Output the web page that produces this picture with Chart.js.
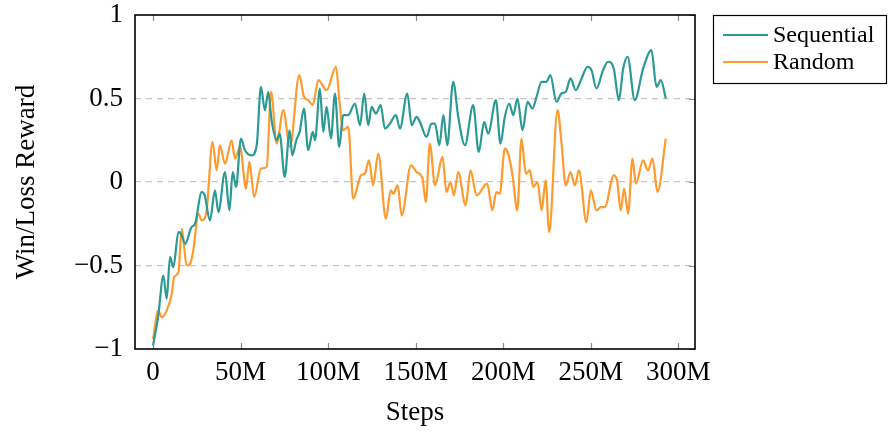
<!DOCTYPE html>
<html>
<head>
<meta charset="utf-8">
<script src="https://cdn.jsdelivr.net/npm/chart.js@4.4.1/dist/chart.umd.min.js"></script>
<style>
html,body{margin:0;padding:0;background:#fff;}
#wrap{width:888px;height:432px;}
</style>
</head>
<body>
<div id="wrap"><canvas id="c" width="888" height="432"></canvas></div>
<script>
// Steps in millions
const seqSteps = [0,3,5.9,7.8,9.7,11.6,14.5,16,18.3,22,24,27.8,29.5,32.5,35.4,37.3,41.1,43.6,45.5,47.4,50.2,52.5,56.3,59.2,61.6,63.9,65.8,67.7,70.6,72.3,75.2,78,79.5,81.8,83.7,86.2,88.6,91.2,92.5,95.3,97.2,99.1,101.6,103.9,106.3,108.6,111.4,115.3,118.2,120.6,122.9,124.8,127.3,130,132.4,135.3,138.7,141,145.2,147.7,150.5,152.4,156.2,159,161,163.5,165.8,168,171.4,174.3,178.1,182.8,186,189.1,191.4,195.8,198.4,200.9,203.4,205.7,208.1,211,213.9,216.7,219,221.9,224.7,226.9,230.4,233.2,235.7,238.4,241.4,244.7,248.1,250.4,253.2,257,259.9,263.1,266,268.5,271,275.1,279.9,284.6,287.5,290,292.8];
const seqValues = [-0.98,-0.80,-0.56,-0.70,-0.45,-0.51,-0.30,-0.31,-0.37,-0.27,-0.25,-0.06,-0.08,-0.23,-0.05,-0.18,0.06,-0.17,0.06,-0.03,0.26,0.19,0.16,0.22,0.57,0.43,0.54,0.37,0.25,0.29,0.03,0.31,0.16,0.25,0.30,0.44,0.19,0.30,0.25,0.56,0.30,0.45,0.26,0.53,0.21,0.40,0.40,0.47,0.34,0.53,0.34,0.45,0.41,0.46,0.32,0.35,0.40,0.32,0.53,0.34,0.39,0.36,0.27,0.35,0.35,0.22,0.40,0.22,0.60,0.39,0.22,0.46,0.18,0.36,0.29,0.49,0.23,0.39,0.47,0.40,0.50,0.31,0.48,0.44,0.51,0.60,0.60,0.64,0.48,0.53,0.54,0.62,0.55,0.62,0.69,0.67,0.56,0.67,0.72,0.68,0.49,0.68,0.75,0.49,0.68,0.79,0.57,0.61,0.50];

const rndSteps = [0,3,4.9,7.8,10.7,12,14.5,16.4,19.2,21.1,23,25.9,27.8,30.6,34,36.3,38.2,41.1,44.9,46.8,49.7,53.1,55,57.8,61.6,64.9,67.4,70.6,74.4,78.2,83.5,86.2,88.7,91.2,94.4,99.1,104.5,106.3,108.6,111.5,114.3,118.7,121,123.3,125.7,128.6,133,135.7,137.2,139.7,142,147.3,150.5,153.9,155.8,158.1,161,165.3,167.6,169.9,171.8,174.3,178.5,181.3,184.8,190.8,193.8,196,198,200.9,202.8,205.3,208,210.4,212.9,215.2,217.1,219.6,221.9,224.2,226.2,231,233.3,235.7,238.4,240.9,243.2,247.5,250,253.2,255.7,258,263.1,265,267.1,269,271.3,273.8,275.7,279.9,282.7,285.2,288.1,292.8];
const rndValues = [-0.94,-0.77,-0.81,-0.77,-0.67,-0.57,-0.54,-0.28,-0.50,-0.49,-0.41,-0.19,-0.23,-0.17,0.24,0.07,0.22,0.11,0.25,0.14,0.21,-0.04,0.12,-0.09,0.08,0.09,0.54,0.23,0.43,0.21,0.64,0.51,0.49,0.46,0.61,0.55,0.69,0.50,0.31,0.33,-0.10,0.04,0.05,0.13,-0.02,0.17,-0.22,-0.05,-0.07,-0.02,-0.20,0.10,0.06,0.02,-0.12,0.23,-0.02,0.15,-0.06,0.00,-0.08,0.06,-0.14,0.07,-0.08,-0.01,-0.17,-0.06,-0.07,0.20,0.17,0.04,-0.17,0.26,0.05,0.07,-0.03,0.00,-0.17,0.01,-0.30,0.43,0.23,-0.02,0.06,-0.02,0.07,-0.24,-0.05,-0.17,-0.15,-0.15,0.04,0.01,-0.17,-0.04,-0.19,0.14,-0.01,0.13,0.07,0.14,-0.06,0.26];

const xTicks = [0,50,100,150,200,250,300];
const yTicks = [-1,-0.5,0,0.5,1];
const seriesNames = ['Sequential','Random'];
const seriesColors = ['#2B9A94','#FF9A2E'];

const FONT = '"Liberation Serif", "Times New Roman", serif';

const frame = {
  id: 'frame',
  afterDatasetsDraw(chart) {
    const {ctx, chartArea: a, scales: {x, y}} = chart;
    ctx.save();
    ctx.strokeStyle = '#8a8a8a';
    ctx.lineWidth = 1.2;
    ctx.beginPath();
    xTicks.forEach(v => {
      const px = Math.round(x.getPixelForValue(v)) + 0.5;
      ctx.moveTo(px, a.bottom); ctx.lineTo(px, a.bottom - 6);
      ctx.moveTo(px, a.top); ctx.lineTo(px, a.top + 6);
    });
    yTicks.forEach(v => {
      const py = Math.round(y.getPixelForValue(v)) + 0.5;
      ctx.moveTo(a.right, py); ctx.lineTo(a.right - 6, py);
    });
    ctx.stroke();
    ctx.strokeStyle = '#000';
    ctx.lineWidth = 1.6;
    ctx.strokeRect(a.left, a.top, a.right - a.left, a.bottom - a.top);
    const lx = a.right + 18, ly = a.top, lw = 174, lh = 68;
    ctx.lineWidth = 1.2;
    ctx.strokeRect(lx + 0.5, ly + 0.5, lw - 1, lh);
    ctx.font = '24px ' + FONT;
    ctx.textBaseline = 'middle';
    ctx.fillStyle = '#000';
    chart.data.datasets.forEach((ds, i) => {
      const cy = ly + 20 + i * 27;
      ctx.strokeStyle = ds.borderColor;
      ctx.lineWidth = 2;
      ctx.beginPath();
      ctx.moveTo(lx + 10, cy); ctx.lineTo(lx + 55, cy);
      ctx.stroke();
      ctx.fillText(ds.label, lx + 60, cy + 1);
    });
    ctx.restore();
  }
};

new Chart(document.getElementById('c'), {
  type: 'line',
  data: {
    datasets: [
      { label: seriesNames[0], data: seqSteps.map((s, i) => ({x: s, y: seqValues[i]})),
        borderColor: seriesColors[0], borderWidth: 2.2, pointRadius: 0, cubicInterpolationMode: 'monotone', fill: false },
      { label: seriesNames[1], data: rndSteps.map((s, i) => ({x: s, y: rndValues[i]})),
        borderColor: seriesColors[1], borderWidth: 2.2, pointRadius: 0, cubicInterpolationMode: 'monotone', fill: false }
    ]
  },
  options: {
    responsive: false,
    animation: false,
    devicePixelRatio: 1,
    layout: { padding: { top: 15, right: 193, left: 0, bottom: 0 } },
    plugins: { legend: { display: false }, tooltip: { enabled: false } },
    scales: {
      x: {
        type: 'linear', min: -10.3, max: 309.5,
        afterBuildTicks: s => { s.ticks = xTicks.map(v => ({value: v})); },
        afterFit: s => { s.height = 83; s.paddingLeft = 0; s.paddingRight = 0; },
        grid: { display: false, drawTicks: false },
        border: { display: false },
        ticks: { color: '#000', padding: 8, maxRotation: 0, autoSkip: false,
                 font: { family: FONT, size: 27 },
                 callback: v => v === 0 ? '0' : v + 'M' },
        title: { display: true, text: 'Steps', color: '#000', font: { family: FONT, size: 27 },
                 padding: { top: 0, bottom: 3 } }
      },
      y: {
        min: -1, max: 1,
        afterBuildTicks: s => { s.ticks = yTicks.map(v => ({value: v})); },
        afterFit: s => { s.width = 135; s.paddingTop = 0; s.paddingBottom = 0; },
        grid: {
          drawTicks: false,
          color: c => (c.tick && Math.abs(c.tick.value) < 0.99) ? '#c4c4c4' : 'rgba(0,0,0,0)',
          lineWidth: 1.2
        },
        border: { display: false, dash: [6, 5] },
        ticks: { color: '#000', padding: 12, font: { family: FONT, size: 27 },
                 callback: v => (v < 0 ? '\u2212' + Math.abs(v) : String(v)) },
        title: { display: true, text: 'Win/Loss Reward', color: '#000', font: { family: FONT, size: 27 },
                 padding: { top: 11, bottom: 0 } }
      }
    }
  },
  plugins: [frame]
});
</script>
</body>
</html>
